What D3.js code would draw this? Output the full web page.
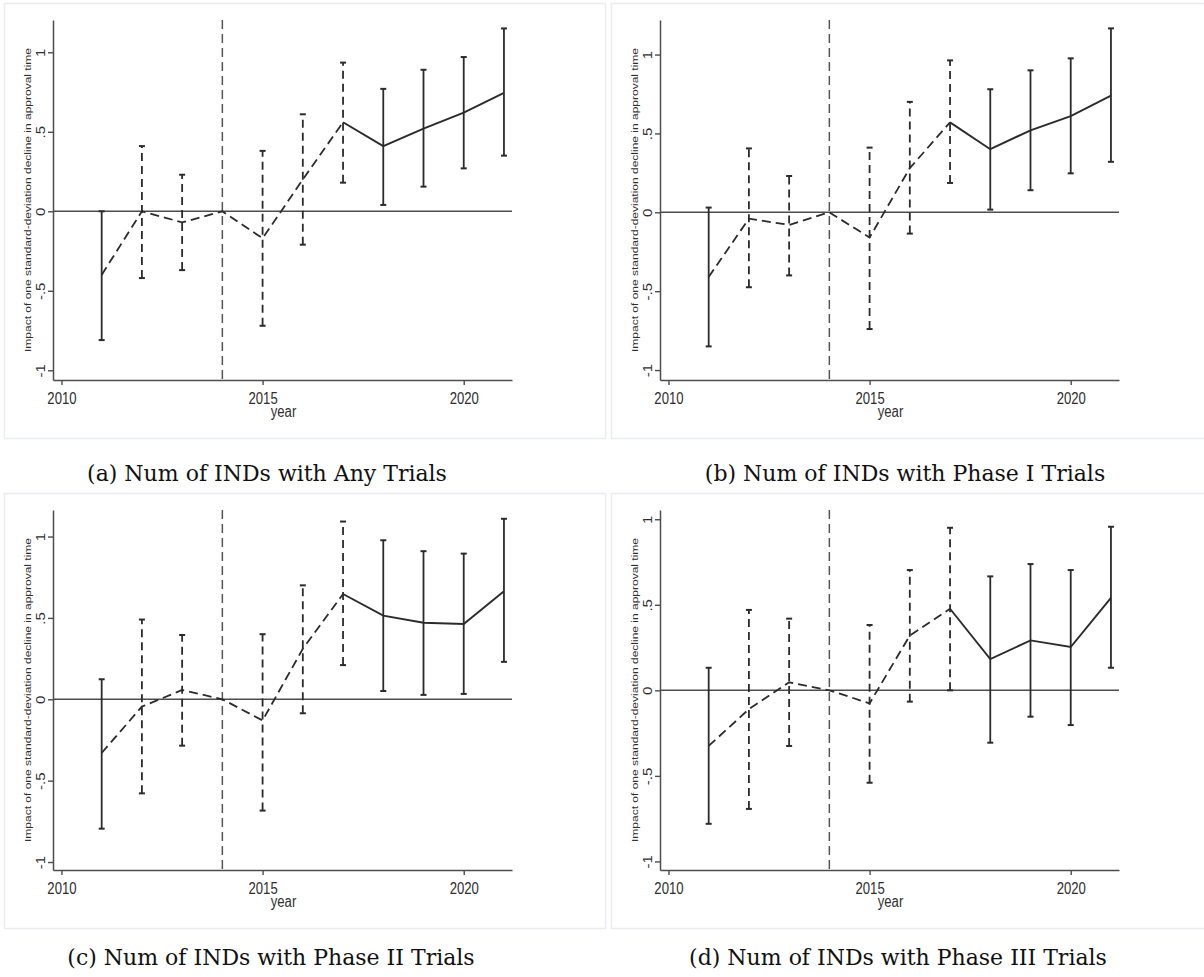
<!DOCTYPE html>
<html>
<head>
<meta charset="utf-8">
<script src="https://cdn.jsdelivr.net/npm/d3@7"></script>
<style>
  body { margin: 0; background: #fff; }
  svg { display: block; }
</style>
</head>
<body>
<svg id="fig" width="1204" height="977"></svg>
<script>
// Event-study estimates by year (2014 is the omitted reference year)
const years = [2011, 2012, 2013, 2014, 2015, 2016, 2017, 2018, 2019, 2020, 2021];

const estAny = [-0.40, 0.00, -0.07, 0, -0.17, 0.20, 0.56, 0.41, 0.52, 0.62, 0.745];
const loAny  = [-0.81, -0.42, -0.37, null, -0.72, -0.21, 0.18, 0.04, 0.155, 0.27, 0.35];
const hiAny  = [0.00, 0.41, 0.23, null, 0.38, 0.61, 0.935, 0.77, 0.89, 0.97, 1.15];

const estPh1 = [-0.41, -0.04, -0.08, 0, -0.16, 0.28, 0.57, 0.40, 0.52, 0.61, 0.74];
const loPh1  = [-0.85, -0.475, -0.40, null, -0.74, -0.135, 0.186, 0.017, 0.14, 0.247, 0.32];
const hiPh1  = [0.03, 0.405, 0.23, null, 0.41, 0.70, 0.963, 0.78, 0.90, 0.976, 1.166];

const estPh2 = [-0.33, -0.045, 0.057, 0, -0.13, 0.31, 0.647, 0.514, 0.47, 0.463, 0.664];
const loPh2  = [-0.795, -0.578, -0.285, null, -0.684, -0.086, 0.21, 0.051, 0.027, 0.033, 0.23];
const hiPh2  = [0.123, 0.49, 0.395, null, 0.40, 0.70, 1.092, 0.977, 0.91, 0.895, 1.109];

const estPh3 = [-0.325, -0.11, 0.047, 0, -0.076, 0.32, 0.477, 0.183, 0.292, 0.253, 0.541];
const loPh3  = [-0.78, -0.693, -0.325, null, -0.54, -0.066, 0.00, -0.306, -0.154, -0.203, 0.132];
const hiPh3  = [0.132, 0.47, 0.419, null, 0.382, 0.703, 0.95, 0.666, 0.738, 0.703, 0.956];

const captions = [
  "(a) Num of INDs with Any Trials",
  "(b) Num of INDs with Phase I Trials",
  "(c) Num of INDs with Phase II Trials",
  "(d) Num of INDs with Phase III Trials"
];

const xTicks = [2010, 2015, 2020];
const yTicks = [-1, -0.5, 0, 0.5, 1];
const yTickLabels = ["-1", "-.5", "0", ".5", "1"];
const eventYear = 2014;
const lastPreYear = 2017;        // connecting line is dashed up to here
const dashedBarYears = [2012, 2013, 2014, 2015, 2016, 2017];
const yTitle = "Impact of one standard-deviation decline in approval time";
const xTitle = "year";

// panel layout
const panels = [
  { est: estAny, lo: loAny, hi: hiAny, ox: 0,   oy: 0,   yDom: [-1.061, 1.203], cap: captions[0], cx: 267, cy: 481 },
  { est: estPh1, lo: loPh1, hi: hiPh1, ox: 607, oy: 0,   yDom: [-1.063, 1.219], cap: captions[1], cx: 905, cy: 481 },
  { est: estPh2, lo: loPh2, hi: hiPh2, ox: 0,   oy: 490, yDom: [-1.049, 1.163], cap: captions[2], cx: 271, cy: 965 },
  { est: estPh3, lo: loPh3, hi: hiPh3, ox: 607, oy: 490, yDom: [-1.050, 1.054], cap: captions[3], cx: 898, cy: 965 }
];

const plotL = 53, plotR = 512, plotT = 20, plotB = 380;
const ink = "#2b2b2b", axisInk = "#4d4d4d";
const sans = "'Liberation Sans', Arial, sans-serif";
const squeeze = 0.82;            // graph text is set condensed across its width
const svg = d3.select("#fig");

panels.forEach(p => {
  const g = svg.append("g").attr("transform", `translate(${p.ox},${p.oy})`);

  // light graph-region border
  g.append("rect")
    .attr("x", 4.5).attr("y", 3.5).attr("width", 601).attr("height", 435)
    .attr("fill", "#fff").attr("stroke", "#e9ecf1").attr("stroke-width", 1.5);

  const x = d3.scaleLinear().domain([2009.79, 2021.2]).range([plotL, plotR]);
  const y = d3.scaleLinear().domain(p.yDom).range([plotB, plotT]);

  // zero reference line
  g.append("line")
    .attr("x1", plotL).attr("x2", plotR).attr("y1", y(0)).attr("y2", y(0))
    .attr("stroke", axisInk).attr("stroke-width", 1.5);

  // event-year vertical line
  g.append("line")
    .attr("x1", x(eventYear)).attr("x2", x(eventYear)).attr("y1", plotT).attr("y2", plotB)
    .attr("stroke", "#555").attr("stroke-width", 1.5).attr("stroke-dasharray", "9,5");

  // axes
  const yAxis = g.append("g").attr("transform", `translate(${plotL},0)`)
    .call(d3.axisLeft(y).tickValues(yTicks).tickSize(5).tickSizeOuter(0)
      .tickFormat((d, i) => yTickLabels[i]));
  const xAxis = g.append("g").attr("transform", `translate(0,${plotB})`)
    .call(d3.axisBottom(x).tickValues(xTicks).tickSize(5).tickSizeOuter(0)
      .tickFormat(d3.format("d")));

  [yAxis, xAxis].forEach(a => {
    a.select(".domain").attr("stroke", axisInk).attr("stroke-width", 1.5);
    a.selectAll(".tick line").attr("stroke", axisInk).attr("stroke-width", 1.4);
    a.selectAll(".tick text").attr("fill", "#2e2e2e").style("font-family", sans);
  });
  yAxis.selectAll(".tick text")
    .style("font-size", "15px")
    .attr("x", null).attr("dy", null)
    .attr("text-anchor", "middle")
    .attr("transform", `translate(-8.5,0) rotate(-90) scale(1,${squeeze})`);
  xAxis.selectAll(".tick text")
    .style("font-size", "16px")
    .attr("y", 13).attr("dy", "0.71em")
    .attr("transform", `scale(${squeeze},1)`);

  // axis titles
  g.append("text")
    .attr("transform", `translate(31,${(plotT + plotB) / 2}) rotate(-90) scale(1,${squeeze})`)
    .attr("text-anchor", "middle").attr("fill", "#2e2e2e")
    .style("font-family", sans).style("font-size", "12px")
    .text(yTitle);
  g.append("text")
    .attr("transform", `translate(${(plotL + plotR) / 2 + 1},417) scale(${squeeze},1)`)
    .attr("text-anchor", "middle").attr("fill", "#2e2e2e")
    .style("font-family", sans).style("font-size", "16px")
    .text(xTitle);

  // confidence-interval bars with caps
  const bars = years.map((yr, i) => ({ yr, lo: p.lo[i], hi: p.hi[i] })).filter(d => d.lo !== null);
  const bg = g.append("g");
  bars.forEach(d => {
    const dashed = dashedBarYears.includes(d.yr);
    bg.append("line")
      .attr("x1", x(d.yr)).attr("x2", x(d.yr)).attr("y1", y(d.lo)).attr("y2", y(d.hi))
      .attr("stroke", ink).attr("stroke-width", 1.8)
      .attr("stroke-dasharray", dashed ? "8,5" : null);
    [d.lo, d.hi].forEach(v => {
      bg.append("line")
        .attr("x1", x(d.yr) - 3).attr("x2", x(d.yr) + 3).attr("y1", y(v)).attr("y2", y(v))
        .attr("stroke", ink).attr("stroke-width", 2);
    });
  });

  // point-estimate path: dashed before, solid after
  const pts = years.map((yr, i) => ({ yr, v: p.est[i] }));
  const line = d3.line().x(d => x(d.yr)).y(d => y(d.v));
  g.append("path").datum(pts.filter(d => d.yr <= lastPreYear))
    .attr("d", line).attr("fill", "none").attr("stroke", ink)
    .attr("stroke-width", 1.8).attr("stroke-dasharray", "9,5");
  g.append("path").datum(pts.filter(d => d.yr >= lastPreYear))
    .attr("d", line).attr("fill", "none").attr("stroke", ink)
    .attr("stroke-width", 1.9);

  // caption beneath the panel
  svg.append("text")
    .attr("x", p.cx).attr("y", p.cy)
    .attr("text-anchor", "middle").attr("fill", "#111")
    .style("font-family", "'DejaVu Serif', 'Liberation Serif', serif").style("font-size", "22px")
    .text(p.cap);
});
</script>
</body>
</html>
